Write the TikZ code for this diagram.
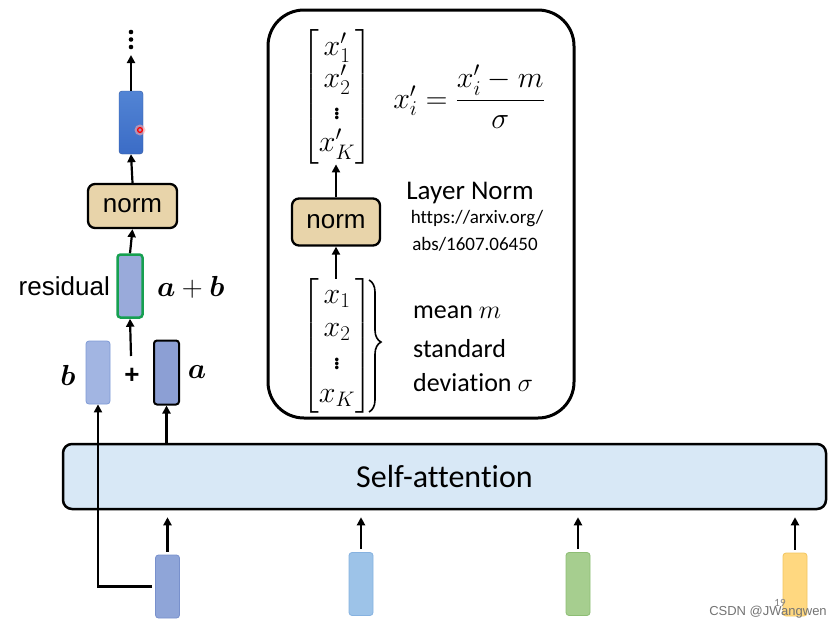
\RequirePackage{fix-cm}
\documentclass[tikz,border=0pt]{standalone}
\usepackage{amsmath,bm}
\usepackage{fontspec}
\setmainfont{Carlito}[Ligatures=NoCommon]
\newfontfamily\arialf{Liberation Sans}
\usetikzlibrary{decorations.pathreplacing,arrows.meta}
\definecolor{topblue}{HTML}{3B6CC6}
\definecolor{topblueL}{HTML}{5284D4}
\definecolor{normfill}{HTML}{E8D4AA}
\definecolor{resfill}{HTML}{99AADA}
\definecolor{resgreen}{HTML}{16A050}
\definecolor{bfill}{HTML}{A2B5E2}
\definecolor{bdraw}{HTML}{7E9AD6}
\definecolor{afill}{HTML}{8C9FD4}
\definecolor{safill}{HTML}{D8E8F6}
\definecolor{xonefill}{HTML}{8FA5D8}
\definecolor{xonedraw}{HTML}{7890CC}
\definecolor{xtwofill}{HTML}{9DC3E8}
\definecolor{xtwodraw}{HTML}{86B2E0}
\definecolor{xthreefill}{HTML}{A6CE8F}
\definecolor{xthreedraw}{HTML}{8DBD74}
\definecolor{xfourfill}{HTML}{FFD880}
\definecolor{xfourdraw}{HTML}{F2C660}
\tikzset{
  vecbox/.style={rectangle, rounded corners=3pt, minimum width=24pt, minimum height=63pt, inner sep=0pt},
  arr/.style={-{Triangle[length=8pt,width=8pt]}, line width=2.2pt},
  normbox/.style={draw, line width=2.3pt, rounded corners=7pt, fill=normfill, inner sep=0pt, font=\arialf\fontsize{26}{30}\selectfont},
  lbl/.style={inner sep=0pt},
}
\begin{document}
\begin{tikzpicture}[x=1pt,y=-1pt]
\useasboundingbox (0,0) rectangle (838,629);
% ---------- left column ----------
\fill (131,32) circle (2.3pt);
\fill (131,39.5) circle (2.3pt);
\fill (131,47) circle (2.3pt);
\coordinate (dots) at (131,55);
\node[vecbox, top color=topblueL, bottom color=topblue, draw=topblue!80!black, line width=0.4pt] (top) at (131,122.5) {};
\fill[red!35, opacity=0.6] (140,130) circle (5.5pt);
\draw[red, line width=1.3pt] (140,130) circle (2.4pt);
\draw[arr] (top.north) -- (dots);
\node[normbox, minimum width=89pt, minimum height=44pt] (norm1) at (132.5,206) {norm};
\draw[arr] (norm1.north) -- (top.south);
\node[vecbox, fill=resfill, draw=resgreen, line width=2.5pt, minimum width=25pt, minimum height=63pt] (res) at (130,286) {};
\draw[arr] (res.north) -- (norm1.south);
\node[lbl, anchor=east, font=\arialf\fontsize{26}{30}\selectfont] (reslbl) at (110,286) {residual};
\node[lbl, anchor=west, font=\fontsize{29}{34}\selectfont] (ab) at (157,287) {$\bm{a}+\bm{b}$};
\coordinate (plustop) at (131,356);
\draw[arr] (plustop) -- (res.south);
\node[lbl, font=\arialf\bfseries\fontsize{26}{30}\selectfont] (plus) at (132,376) {+};
\node[vecbox, fill=bfill, draw=bdraw, line width=0.8pt] (b) at (98,372.5) {};
\node[vecbox, fill=afill, draw=black, line width=2pt, minimum width=25pt, minimum height=64pt] (a) at (166.5,372.5) {};
\node[lbl, font=\fontsize{29}{34}\selectfont] (blbl) at (68,375) {$\bm{b}$};
\node[lbl, font=\fontsize{29}{34}\selectfont] (albl) at (197,372) {$\bm{a}$};
% ---------- self-attention ----------
\node[draw, line width=2.5pt, rounded corners=9pt, fill=safill, minimum width=763pt, minimum height=65pt, inner sep=0pt, font=\fontsize{32}{38}\selectfont] (sa) at (444.5,476.5) {Self-attention};
\draw[arr] (a.south |- sa.north) -- (a.south);
% ---------- bottom vectors ----------
\node[vecbox, fill=xonefill, draw=xonedraw, line width=0.8pt] (x1) at (167.5,586.5) {};
\node[vecbox, fill=xtwofill, draw=xtwodraw, line width=0.8pt] (x2) at (361,584) {};
\node[vecbox, fill=xthreefill, draw=xthreedraw, line width=0.8pt] (x3) at (578,584) {};
\node[vecbox, fill=xfourfill, draw=xfourdraw, line width=0.8pt] (x4) at (795,584.5) {};
\foreach \n in {x1,x2,x3,x4}{
  \draw[arr, shorten <=3pt, shorten >=7pt] (\n.north) -- (\n.north |- sa.south);
}
\draw[arr] ([xshift=-3pt]x1.west) -| (b.south);
% ---------- right panel ----------
\node[draw, line width=3pt, rounded corners=36pt, minimum width=306pt, minimum height=408pt, inner sep=0pt] (panel) at (421,214) {};
\node[lbl, font=\fontsize{30}{32}\selectfont] (xp) at (337,97) {$\begin{bmatrix} x'_1\\ x'_2\\ \vdots\\ x'_K\end{bmatrix}$};
\node[normbox, minimum width=88pt, minimum height=47pt] (norm2) at (336,222) {norm};
\node[lbl, font=\fontsize{30}{33}\selectfont] (xm) at (337,346) {$\begin{bmatrix} x_1\\ x_2\\ \vdots\\ x_K\end{bmatrix}$};
\draw[arr] (norm2.north) -- (xp.south -| norm2.north);
\draw[arr] (xm.north -| norm2.south) -- (norm2.south);
\draw[decorate, decoration={brace, amplitude=12pt, aspect=0.47}, line width=1.6pt] (369,280) -- (369,412);
\node[lbl, font=\fontsize{30}{34}\selectfont] (formula) at (469,97) {$x'_i=\dfrac{x'_i-m}{\sigma}$};
\node[lbl, font=\fontsize{27}{32}\selectfont] (ln) at (470,193) {Layer Norm};
\node[lbl, font=\fontsize{19}{23}\selectfont] (url1) at (477,219) {https://arxiv.org/};
\node[lbl, font=\fontsize{19}{23}\selectfont] (url2) at (475,244) {abs/1607.06450};
\node[lbl, anchor=west, font=\fontsize{26}{31}\selectfont] (mean) at (413,312) {mean $m$};
\node[lbl, anchor=west, font=\fontsize{26}{31}\selectfont] (std) at (413,349) {standard};
\node[lbl, anchor=west, font=\fontsize{26}{31}\selectfont] (dev) at (413,383) {deviation $\sigma$};
% ---------- watermark ----------
\node[lbl, text=gray, font=\fontsize{11}{13}\selectfont] (pg) at (780,603) {19};
\node[lbl, text=gray!90!black, font=\arialf\fontsize{13}{15}\selectfont] (wm) at (768,612) {CSDN @JWangwen};
\end{tikzpicture}
\end{document}
